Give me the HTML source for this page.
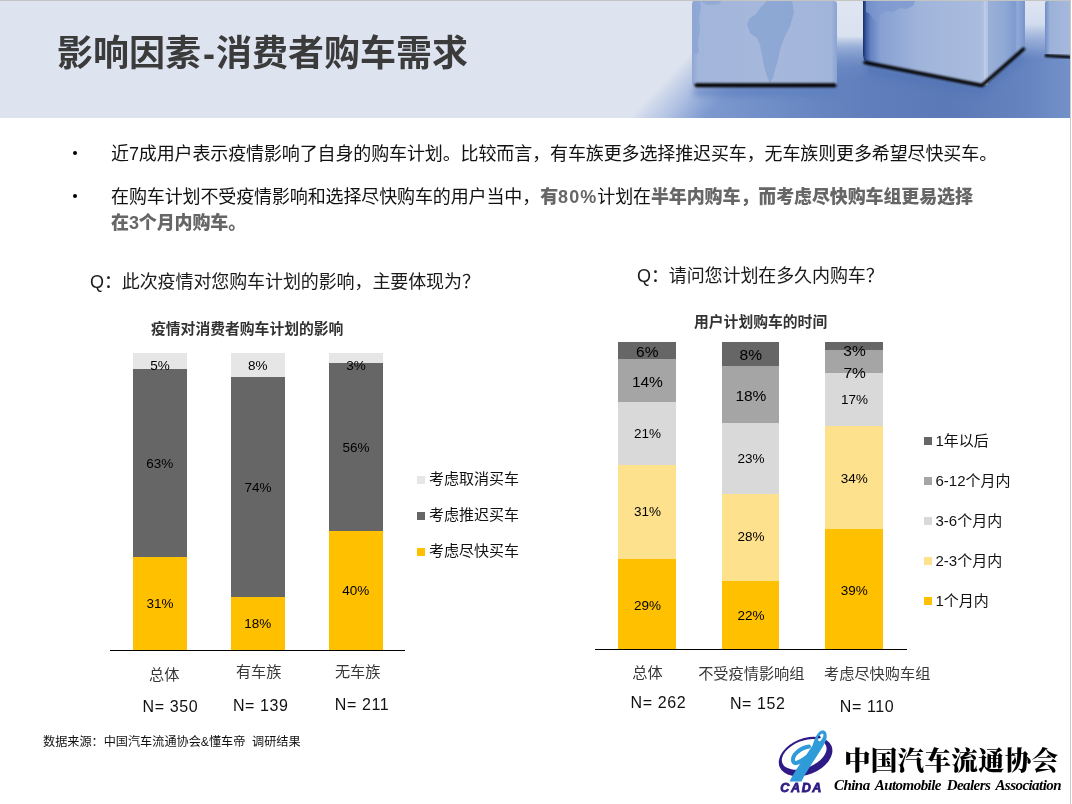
<!DOCTYPE html>
<html lang="zh-CN">
<head>
<meta charset="utf-8">
<title>影响因素-消费者购车需求</title>
<style>
*{margin:0;padding:0;box-sizing:border-box;}
html,body{width:1072px;height:804px;overflow:hidden;background:#fff;}
body{position:relative;font-family:"Liberation Sans","Noto Sans CJK SC",sans-serif;color:#000;}
.abs{position:absolute;white-space:nowrap;line-height:1;}
#hdr{position:absolute;left:0;top:0;width:1070px;height:118px;}
.title{left:57px;top:36px;font-size:36px;font-weight:bold;color:#3b3b3b;letter-spacing:0;}
.b{font-size:18px;color:#111;letter-spacing:-0.12px;}
.dot{position:absolute;width:4.2px;height:4.2px;border-radius:50%;background:#000;}
.g{font-weight:900;color:#666;}
.q{font-size:18px;color:#1a1a1a;letter-spacing:-0.1px;}
.ct{font-size:14.8px;font-weight:bold;color:#333;}
.bar{position:absolute;}
.lbl{position:absolute;z-index:2;width:60px;font-size:13px;line-height:1;text-align:center;color:#000;white-space:nowrap;}
.lg{position:absolute;font-size:15px;line-height:1;color:#111;white-space:nowrap;}
.sq{position:absolute;width:8px;height:8px;}
.cat{position:absolute;width:200px;text-align:center;font-size:15.2px;line-height:1;color:#383838;white-space:nowrap;}
.n{position:absolute;width:200px;text-align:center;font-size:16px;letter-spacing:0.6px;line-height:1;color:#111;white-space:nowrap;}
</style>
</head>
<body>
<!-- header image -->
<svg id="hdr" width="1070" height="118" viewBox="0 0 1070 118">
  <defs>
    <linearGradient id="bg" x1="0" y1="0" x2="1" y2="0">
      <stop offset="0" stop-color="#dce2ee"/>
      <stop offset="0.5" stop-color="#dce3ef"/>
      <stop offset="0.6" stop-color="#e1e7f1"/>
      <stop offset="0.64" stop-color="#e3e8f2"/>
      <stop offset="1" stop-color="#dbe2f0"/>
    </linearGradient>
    <linearGradient id="fl" x1="660" y1="0" x2="1072" y2="0" gradientUnits="userSpaceOnUse">
      <stop offset="0" stop-color="#9ab0da"/>
      <stop offset="0.1" stop-color="#7e9ad0"/>
      <stop offset="0.3" stop-color="#6d8bc5"/>
      <stop offset="0.5" stop-color="#5f7ebb"/>
      <stop offset="0.7" stop-color="#5a79b6"/>
      <stop offset="0.88" stop-color="#6483bf"/>
      <stop offset="1" stop-color="#7491c9"/>
    </linearGradient>
    <linearGradient id="c1" x1="0" y1="0" x2="1" y2="0">
      <stop offset="0" stop-color="#8da6d3"/>
      <stop offset="0.04" stop-color="#a2b5da"/>
      <stop offset="0.5" stop-color="#a6b8dc"/>
      <stop offset="0.96" stop-color="#a1b4da"/>
      <stop offset="1" stop-color="#8aa3d2"/>
    </linearGradient>
    <linearGradient id="c2f" x1="863" y1="0" x2="986" y2="0" gradientUnits="userSpaceOnUse">
      <stop offset="0" stop-color="#1a2d62"/>
      <stop offset="0.025" stop-color="#3b5aa2"/>
      <stop offset="0.06" stop-color="#6281c0"/>
      <stop offset="0.14" stop-color="#86a0d2"/>
      <stop offset="0.45" stop-color="#a0b4da"/>
      <stop offset="0.95" stop-color="#a9bcde"/>
      <stop offset="1" stop-color="#b5c5e3"/>
    </linearGradient>
    <linearGradient id="c2s" x1="986" y1="0" x2="1025" y2="0" gradientUnits="userSpaceOnUse">
      <stop offset="0" stop-color="#9cb1d9"/>
      <stop offset="0.5" stop-color="#8ea8d4"/>
      <stop offset="0.75" stop-color="#7e9ad0"/>
      <stop offset="0.8" stop-color="#91aad6"/>
      <stop offset="1" stop-color="#7794cc"/>
    </linearGradient>
    <linearGradient id="c3" x1="1045" y1="0" x2="1070" y2="0" gradientUnits="userSpaceOnUse">
      <stop offset="0" stop-color="#6d8cc7"/>
      <stop offset="0.2" stop-color="#9db2d9"/>
      <stop offset="1" stop-color="#a6b8dc"/>
    </linearGradient>
    <linearGradient id="lt" x1="660" y1="86" x2="700" y2="124" gradientUnits="userSpaceOnUse">
      <stop offset="0" stop-color="#dde3ef" stop-opacity="1"/>
      <stop offset="0.5" stop-color="#c3d0e9" stop-opacity="0.6"/>
      <stop offset="1" stop-color="#a9bde2" stop-opacity="0"/>
    </linearGradient>
    <linearGradient id="wall1" x1="0" y1="0" x2="0" y2="1">
      <stop offset="0" stop-color="#dfe5f1"/>
      <stop offset="0.45" stop-color="#dae2f0"/>
      <stop offset="0.6" stop-color="#a9bde0" stop-opacity="0.7"/>
      <stop offset="0.85" stop-color="#7f9ad0" stop-opacity="0.2"/>
      <stop offset="1" stop-color="#7f9ad0" stop-opacity="0"/>
    </linearGradient>
    <linearGradient id="wall2" x1="0" y1="0" x2="0" y2="1">
      <stop offset="0" stop-color="#e0e6f1"/>
      <stop offset="0.4" stop-color="#d2dcef"/>
      <stop offset="0.8" stop-color="#9fb4dc" stop-opacity="0.5"/>
      <stop offset="1" stop-color="#7f9ad0" stop-opacity="0"/>
    </linearGradient>
    <filter id="b6" x="-20%" y="-50%" width="140%" height="200%"><feGaussianBlur stdDeviation="7"/></filter>
    <filter id="b1" x="-5%" y="-100%" width="110%" height="300%"><feGaussianBlur stdDeviation="0.9"/></filter>
    <filter id="b3" x="-20%" y="-100%" width="140%" height="300%"><feGaussianBlur stdDeviation="3"/></filter>
  </defs>
  <rect x="0" y="0" width="1072" height="118" fill="url(#bg)"/>
  <!-- floor -->
  <rect x="560" y="0" width="512" height="118" fill="url(#fl)"/>
  <rect x="0" y="0" width="900" height="118" fill="url(#lt)"/>
  <rect x="832" y="0" width="36" height="80" fill="url(#wall1)"/>
  <rect x="1020" y="0" width="30" height="60" fill="url(#wall2)"/>
  <!-- contact shadows -->
  <path d="M694,88 L836,88 L836,96 L694,96 Z" fill="#5a7bbd" opacity="0.6" filter="url(#b3)"/>
  <path d="M866,66 L982,89 L1024,52 L1024,60 L982,96 L866,74 Z" fill="#4f72b7" opacity="0.55" filter="url(#b3)"/>
  <!-- cube 1 -->
  <rect x="692" y="1" width="145" height="85" rx="3" fill="url(#c1)"/>
  <path d="M693,1 L700,1 L701,8 L699,18 L700,30 L698,42 L699,52 L696,55 L693,50 Z" fill="#8ca5d3" opacity="0.8"/>
  <path d="M700,1 L722,1 L719,4 L707,5 Z" fill="#8ca5d3" opacity="0.7"/>
  <path d="M767,1 L792,1 L794,12 L793,16 L790,26 L786,34 L783,41 L780,50 L778,60 L775,70 L773,78 L770,83 L767,76 L764,66 L762,55 L760,45 L757,38 L750,33 L747,24 L750,18 L756,14 L760,8 Z" fill="#89a4d2" opacity="0.85"/>
  <rect x="694.5" y="83.3" width="142" height="4" rx="2" fill="#000000" filter="url(#b1)"/>
  <!-- cube 2 -->
  <path d="M863,1 L986,1 L986,85 L982,86 L870,64 L864,60 L863,55 Z" fill="url(#c2f)"/>
  <path d="M986,1 L1025,1 L1025,46 L1022,50 L986,85 Z" fill="url(#c2s)"/>
  <path d="M866,1 L915,1 L913,6 L906,9 L900,8 L893,12 L886,11 L880,15 L878,22 L874,20 L870,14 L866,12 Z" fill="#7d98cf" opacity="0.75"/>
  <rect x="984" y="1" width="4" height="84" fill="#c3d0ea" opacity="0.6"/>
  <path d="M865,62.5 L982,85.5 L1023.5,49" fill="none" stroke="#000000" stroke-width="3.4" stroke-linecap="round" stroke-linejoin="round" filter="url(#b1)"/>
  <!-- cube 3 -->
  <rect x="1045" y="1" width="26" height="55" rx="2" fill="url(#c3)"/>
  <path d="M1046,55.5 L1070,57" stroke="#000000" stroke-width="3.2" stroke-linecap="round" filter="url(#b1)"/>
  <rect x="0" y="0" width="1072" height="1" fill="#c4c4c2"/>
</svg>
<div style="position:absolute;left:1070px;top:0;width:1px;height:804px;background:#c9c9c9"></div>

<div class="abs title">影响因素<span style="margin-left:2px;margin-right:1px">-</span>消费者购车需求</div>

<div class="dot" style="left:72.7px;top:150.9px"></div>
<div class="abs b" style="left:111px;top:145px">近7成用户表示疫情影响了自身的购车计划。比较而言，有车族更多选择推迟买车，无车族则更多希望尽快买车。</div>
<div class="dot" style="left:72.7px;top:193.9px"></div>
<div class="abs b" style="left:111px;top:188px">在购车计划不受疫情影响和选择尽快购车的用户当中，<span class="g">有<span style="letter-spacing:1.1px">80%</span></span>计划在<span class="g">半年内购车，而考虑尽快购车组更易选择</span></div>
<div class="abs b g" style="left:111px;top:214px">在3个月内购车。</div>

<div class="abs q" style="left:90px;top:273px">Q：此次疫情对您购车计划的影响，主要体现为？</div>
<div class="abs q" style="left:637px;top:267px">Q：请问您计划在多久内购车？</div>

<div class="abs ct" style="left:151px;top:322px">疫情对消费者购车计划的影响</div>
<div class="abs ct" style="left:694px;top:315px">用户计划购车的时间</div>

<!-- left chart -->
<div class="bar" style="left:133px;top:353px;width:54px;height:16px;background:#e6e6e6"></div>
<div class="bar" style="left:133px;top:369px;width:54px;height:188px;background:#666"></div>
<div class="bar" style="left:133px;top:557px;width:54px;height:93px;background:#ffc000"></div>
<div class="bar" style="left:231px;top:353px;width:54px;height:24px;background:#e6e6e6"></div>
<div class="bar" style="left:231px;top:377px;width:54px;height:220px;background:#666"></div>
<div class="bar" style="left:231px;top:597px;width:54px;height:53px;background:#ffc000"></div>
<div class="bar" style="left:329px;top:353px;width:54px;height:10px;background:#e6e6e6"></div>
<div class="bar" style="left:329px;top:363px;width:54px;height:168px;background:#666"></div>
<div class="bar" style="left:329px;top:531px;width:54px;height:119px;background:#ffc000"></div>
<div class="bar" style="left:110px;top:650px;width:295px;height:1px;background:#000"></div>


<div class="lbl" style="left:129.9px;top:358.5px;font-size:13.5px">5%</div>
<div class="lbl" style="left:129.7px;top:457.0px;font-size:13.5px">63%</div>
<div class="lbl" style="left:130.0px;top:596.9px;font-size:13.5px">31%</div>
<div class="lbl" style="left:227.8px;top:358.8px;font-size:13.5px">8%</div>
<div class="lbl" style="left:228.0px;top:480.8px;font-size:13.5px">74%</div>
<div class="lbl" style="left:227.8px;top:616.7px;font-size:13.5px">18%</div>
<div class="lbl" style="left:325.9px;top:358.8px;font-size:13.5px">3%</div>
<div class="lbl" style="left:325.9px;top:440.9px;font-size:13.5px">56%</div>
<div class="lbl" style="left:325.7px;top:583.9px;font-size:13.5px">40%</div>
<div class="lbl" style="left:617.3px;top:343.9px;font-size:15.5px">6%</div>
<div class="lbl" style="left:617.4px;top:374.1px;font-size:15.5px">14%</div>
<div class="lbl" style="left:617.5px;top:427.0px;font-size:13.5px">21%</div>
<div class="lbl" style="left:617.5px;top:505.4px;font-size:13.5px">31%</div>
<div class="lbl" style="left:617.5px;top:598.7px;font-size:13.5px">29%</div>
<div class="lbl" style="left:720.8px;top:347.0px;font-size:15.5px">8%</div>
<div class="lbl" style="left:720.9px;top:387.5px;font-size:15.5px">18%</div>
<div class="lbl" style="left:721.0px;top:451.9px;font-size:13.5px">23%</div>
<div class="lbl" style="left:721.0px;top:530.4px;font-size:13.5px">28%</div>
<div class="lbl" style="left:721.0px;top:608.8px;font-size:13.5px">22%</div>
<div class="lbl" style="left:824.5px;top:342.9px;font-size:15.5px">3%</div>
<div class="lbl" style="left:824.6px;top:364.9px;font-size:15.5px">7%</div>
<div class="lbl" style="left:824.4px;top:392.7px;font-size:13.5px">17%</div>
<div class="lbl" style="left:824.3px;top:471.8px;font-size:13.5px">34%</div>
<div class="lbl" style="left:824.3px;top:583.9px;font-size:13.5px">39%</div>

<div class="sq" style="left:417px;top:476px;background:#e6e6e6"></div>
<div class="lg" style="left:429px;top:471px">考虑取消买车</div>
<div class="sq" style="left:417px;top:512px;background:#666"></div>
<div class="lg" style="left:429px;top:507px">考虑推迟买车</div>
<div class="sq" style="left:417px;top:548px;background:#ffc000"></div>
<div class="lg" style="left:429px;top:543px">考虑尽快买车</div>


<!-- right chart -->
<div class="bar" style="left:618px;top:342px;width:58px;height:17px;background:#666"></div>
<div class="bar" style="left:618px;top:359px;width:58px;height:43px;background:#a5a5a5"></div>
<div class="bar" style="left:618px;top:402px;width:58px;height:63px;background:#d9d9d9"></div>
<div class="bar" style="left:618px;top:465px;width:58px;height:94px;background:#fee18d"></div>
<div class="bar" style="left:618px;top:559px;width:58px;height:90px;background:#ffc000"></div>
<div class="bar" style="left:722px;top:342px;width:57px;height:24px;background:#666"></div>
<div class="bar" style="left:722px;top:366px;width:57px;height:57px;background:#a5a5a5"></div>
<div class="bar" style="left:722px;top:423px;width:57px;height:71px;background:#d9d9d9"></div>
<div class="bar" style="left:722px;top:494px;width:57px;height:87px;background:#fee18d"></div>
<div class="bar" style="left:722px;top:581px;width:57px;height:68px;background:#ffc000"></div>
<div class="bar" style="left:825px;top:342px;width:58px;height:8px;background:#666"></div>
<div class="bar" style="left:825px;top:350px;width:58px;height:23px;background:#a5a5a5"></div>
<div class="bar" style="left:825px;top:373px;width:58px;height:53px;background:#d9d9d9"></div>
<div class="bar" style="left:825px;top:426px;width:58px;height:103px;background:#fee18d"></div>
<div class="bar" style="left:825px;top:529px;width:58px;height:120px;background:#ffc000"></div>
<div class="bar" style="left:595px;top:649px;width:312px;height:1px;background:#000"></div>


<div class="sq" style="left:924px;top:437px;background:#666"></div>
<div class="lg" style="left:935.5px;top:433px">1年以后</div>
<div class="sq" style="left:924px;top:477px;background:#a5a5a5"></div>
<div class="lg" style="left:935.5px;top:473px">6-12个月内</div>
<div class="sq" style="left:924px;top:517px;background:#d9d9d9"></div>
<div class="lg" style="left:935.5px;top:513px">3-6个月内</div>
<div class="sq" style="left:924px;top:557px;background:#fee18d"></div>
<div class="lg" style="left:935.5px;top:553px">2-3个月内</div>
<div class="sq" style="left:924px;top:597px;background:#ffc000"></div>
<div class="lg" style="left:935.5px;top:593px">1个月内</div>


<div class="cat" style="left:64.3px;top:667.1px">总体</div>
<div class="cat" style="left:158.7px;top:663.8px">有车族</div>
<div class="cat" style="left:257.7px;top:663.8px">无车族</div>
<div class="cat" style="left:547.5px;top:664.9px">总体</div>
<div class="cat" style="left:651.3px;top:665.8px">不受疫情影响组</div>
<div class="cat" style="left:777.2px;top:665.5px">考虑尽快购车组</div>
<div class="n" style="left:70.4px;top:698.8px">N= 350</div>
<div class="n" style="left:160.8px;top:698.0px">N= 139</div>
<div class="n" style="left:262.0px;top:697.3px">N= 211</div>
<div class="n" style="left:558.4px;top:695.0px">N= 262</div>
<div class="n" style="left:657.8px;top:696.4px">N= 152</div>
<div class="n" style="left:767.0px;top:698.8px">N= 110</div>
<div class="abs" style="left:43px;top:736px;font-size:12.15px;color:#111">数据来源：中国汽车流通协会&amp;懂车帝&nbsp;&nbsp;调研结果</div>

<!-- logo -->
<svg style="position:absolute;left:770px;top:726px" width="75" height="72" viewBox="770 726 75 72">
  <g transform="translate(805.6 756.5) rotate(-22)">
    <path fill="#2d1a84" fill-rule="evenodd" d="M-28,0 a28,18 0 1,0 56,0 a28,18 0 1,0 -56,0 Z M-24,-2.5 a23.5,13.5 0 1,0 47,0 a23.5,13.5 0 1,0 -47,0 Z"/>
  </g>
  <path fill="#2f9bd9" d="M789.5,781.5 C796,768 806,756 812.5,745.5 C814.5,740 816.5,733 821,730.8 C826.5,729 827.8,735 825.8,741 C820,753 809,766 801.5,781.5 Z"/>
  <path fill="none" stroke="#2f9bd9" stroke-width="4" stroke-linecap="round" d="M807,757 C800,762 794,765.5 793,760.5 C792.2,755 800,748 809,746.5"/>
  <ellipse cx="820.8" cy="737.4" rx="1.8" ry="4.2" transform="rotate(28 820.8 737.4)" fill="#fff"/>
  <circle cx="819.3" cy="737.2" r="1.3" fill="#2d1a84"/>
  <text x="780.3" y="792" font-family="Liberation Sans" font-weight="bold" font-style="italic" font-size="12.6" letter-spacing="0.9" fill="#2d1a84" stroke="#2d1a84" stroke-width="0.8" textLength="42">CADA</text>
</svg>
<div class="abs" style="left:844px;top:745.5px;font-size:26.6px;font-family:'Noto Serif CJK SC',serif;font-weight:900;letter-spacing:0.2px;color:#000">中国汽车流通协会</div>
<div class="abs" style="left:834px;top:778px;font-size:15px;font-family:'Liberation Serif',serif;font-style:italic;font-weight:bold;letter-spacing:-0.55px;word-spacing:2.5px;color:#000">China Automobile Dealers Association</div>
</body>
</html>
